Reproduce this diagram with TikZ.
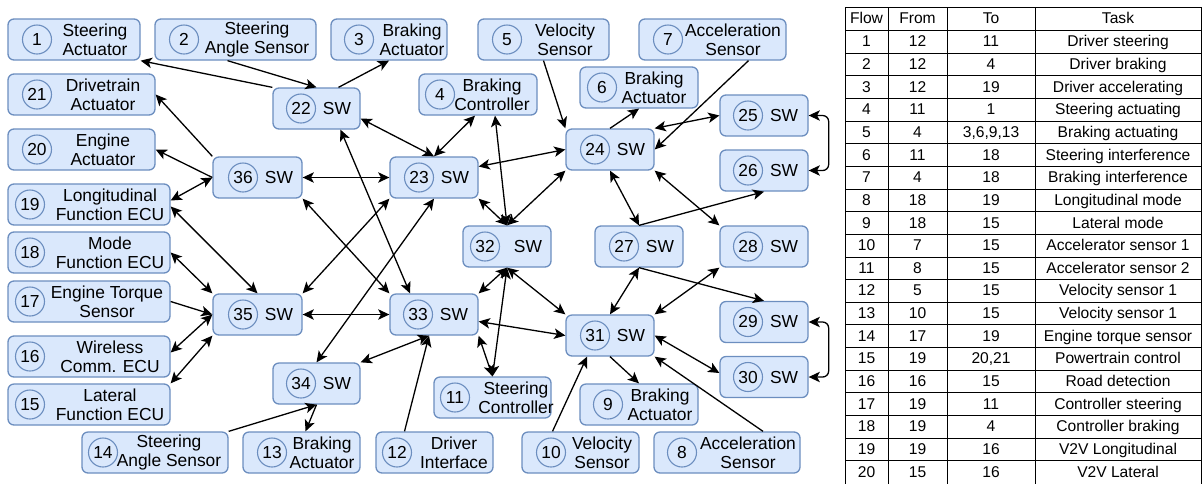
\documentclass[tikz,border=0pt]{standalone}
\usepackage{fontspec}
\setmainfont{Liberation Sans}
\usetikzlibrary{arrows.meta}
\definecolor{boxfill}{HTML}{DAE8FC}
\definecolor{boxline}{HTML}{6C8EBF}

% box with its number circle and its label
\newcommand{\ecu}[7]{%
  \node[ecu, minimum width={(#3-#2)*0.5pt}] (n#1) at ({(#2+#3)/2},#4) {};
  \node[num] (c#1) at (#5,#4) {#1};
  \node[lbl] (t#1) at (#6,#4) {#7};
}

\begin{document}
\begin{tikzpicture}[x=0.5pt, y=-0.5pt,
    >={Stealth[length=5.6pt, width=5.2pt, inset=1.4pt]},
    ecu/.style={draw=boxline, fill=boxfill, line width=0.65pt, rounded corners=3pt, minimum height=20.5pt, inner sep=0pt},
    num/.style={circle, draw=boxline, line width=0.55pt, minimum size=14.5pt, inner sep=0pt, font=\fontsize{8.7}{9.5}\selectfont},
    lbl/.style={align=center, inner sep=0pt, font=\fontsize{8.7}{9.5}\selectfont},
    link/.style={line width=0.65pt},
    cell/.style={inner sep=0pt, text height=5.6pt, text depth=1.6pt, font=\fontsize{7.8}{9}\selectfont},
    tabrule/.style={line width=0.5pt}]
  \useasboundingbox (0,0) rectangle (1202,483);

  \ecu{1}{8}{140}{39.5}{37}{95}{Steering\\Actuator}
  \ecu{2}{155}{316}{39.5}{184}{257}{Steering\\Angle Sensor}
  \ecu{3}{331}{447}{39.5}{359}{412}{Braking\\Actuator}
  \ecu{5}{478}{609}{39.5}{507}{565}{Velocity\\Sensor}
  \ecu{7}{639}{786}{39.5}{668}{733}{Acceleration\\Sensor}
  \ecu{21}{8}{155}{94.5}{37}{103}{Drivetrain\\Actuator}
  \ecu{4}{419}{537}{94.5}{440}{492}{Braking\\Controller}
  \ecu{6}{580}{698}{87.5}{602}{654}{Braking\\Actuator}
  \ecu{22}{273}{360}{108.5}{301}{337}{SW}
  \ecu{25}{720}{808}{115.5}{748}{784}{SW}
  \ecu{20}{8}{155}{149.5}{37}{103}{Engine\\Actuator}
  \ecu{24}{566}{654}{149.5}{595}{631}{SW}
  \ecu{26}{720}{808}{170.5}{748}{784}{SW}
  \ecu{36}{213}{302}{177.5}{243}{279}{SW}
  \ecu{23}{390}{478}{177.5}{419}{455}{SW}
  \ecu{19}{8}{170}{204.5}{30}{110}{Longitudinal\\Function ECU}
  \ecu{32}{463}{551}{246.5}{485}{528}{SW}
  \ecu{27}{595}{683}{246.5}{624}{660}{SW}
  \ecu{28}{720}{808}{246.5}{748}{784}{SW}
  \ecu{18}{8}{170}{252.5}{30}{110}{Mode\\Function ECU}
  \ecu{17}{8}{170}{301.5}{30}{107}{Engine Torque\\Sensor}
  \ecu{35}{213}{302}{314.5}{243}{279}{SW}
  \ecu{33}{390}{478}{314.5}{418}{454}{SW}
  \ecu{29}{720}{808}{322}{748}{784}{SW}
  \ecu{31}{566}{654}{335.5}{595}{631}{SW}
  \ecu{16}{8}{170}{356.5}{30}{110}{Wireless\\Comm. ECU}
  \ecu{30}{720}{808}{377}{748}{784}{SW}
  \ecu{34}{273}{360}{383.5}{301}{337}{SW}
  \ecu{11}{434}{551}{397.5}{455}{516}{Steering\\Controller}
  \ecu{15}{8}{170}{404.5}{30}{110}{Lateral\\Function ECU}
  \ecu{9}{580}{698}{404.5}{608}{660}{Braking\\Actuator}
  \ecu{14}{82}{228}{452.5}{103}{169}{Steering\\Angle Sensor}
  \ecu{13}{243}{360}{452.5}{272}{322}{Braking\\Actuator}
  \ecu{12}{376}{493}{452.5}{397}{454}{Driver\\Interface}
  \ecu{10}{522}{639}{452.5}{551}{602}{Velocity\\Sensor}
  \ecu{8}{654}{800}{452.5}{682}{748}{Acceleration\\Sensor}

  \draw[link]
  (n22.north west) edge[->] (n1.south east)
  ([xshift=-4pt]n2.south) edge[->] (n22.north)
  ([xshift=11pt]n22.north) edge[->] (n3.south)
  (n36.north west) edge[->] (n21.east)
  (n36.west) edge[->] (n20.east)
  (n36.west) edge[<->] ([yshift=2pt]n19.east)
  (n36.east) edge[<->] (n23.west)
  (n36.south east) edge[<->] (n33.north west)
  (n35.north east) edge[<->] (n23.south west)
  ([yshift=-1pt]n19.east) edge[<->] (n35.north)
  (n18.east) edge[<->] (n35.north west)
  (n17.east) edge[->] (n35.west)
  ([yshift=2pt]n16.east) edge[<->] (n35.west)
  (n15.north east) edge[<->] (n35.south west)
  (n35.east) edge[<->] (n33.west)
  ([yshift=-5pt]n22.east) edge[<->] (n23.north)
  ([xshift=12pt]n22.south) edge[<->] ([xshift=-12pt]n33.north)
  (n23.north) edge[<->] ([xshift=-1.5pt]n4.south)
  ([xshift=8.5pt]n4.south) edge[<->] (n32.north)
  ([yshift=5.5pt]n23.east) edge[<->] (n24.west)
  (n23.south east) edge[<->] (n32.north)
  (n32.north) edge[<->] (n24.south west)
  (n5.south) edge[->] (n24.north west)
  (n24.north) edge[->] (n6.south)
  ([xshift=18pt]n7.south) edge[->] (n24.east)
  (n24.north east) edge[<->] (n25.west)
  (n24.south) edge[<->] (n27.north)
  (n24.south east) edge[<->] (n28.north west)
  (n27.north) edge[->] (n26.south)
  (n32.south) edge[<->] (n33.north east)
  (n32.south) edge[<->] (n31.north west)
  (n32.south) edge[<->] (n11.north)
  ([yshift=-3.5pt]n33.east) edge[<->] (n31.west)
  (n33.south east) edge[<->] (n11.north)
  ([xshift=-2.5pt]n33.south) edge[<->] (n34.north east)
  ([xshift=-15pt]n12.north) edge[->] ([xshift=-2.5pt]n33.south)
  (n23.south) edge[<->] (n34.north)
  (n14.north east) edge[->] (n34.south)
  (n34.south) edge[->] ([xshift=2pt]n13.north)
  ([xshift=-14pt]n10.north) edge[->] ([xshift=-11.5pt]n31.south)
  (n31.south) edge[->] (n9.north)
  ([xshift=18pt]n8.north) edge[->] (n31.south east)
  (n31.east) edge[<->] ([yshift=2pt]n30.west)
  (n31.north) edge[<->] (n27.south)
  (n31.north east) edge[<->] (n28.south west)
  (n27.south) edge[->] (n29.north);
  \draw[link, <->, rounded corners=3pt] (n25.east) -- ++(20,0) |- (n26.east);
  \draw[link, <->, rounded corners=3pt] (n29.east) -- ++(20,0) |- (n30.east);

  % flow table
  \draw[tabrule] (845,483.5) |- (1201,7) -- (1201,483.5);
  \foreach \x in {888,947,1035}
    \draw[tabrule] (\x,7) -- (\x,483.5);
  \foreach \k in {0,...,19}
    \draw[tabrule] (845,{30.5+22.65*\k}) -- (1201,{30.5+22.65*\k});
  \node[cell] (hflow) at (866.5,19) {Flow};
  \node[cell] (hfrom) at (917.5,19) {From};
  \node[cell] (hto) at (991,19) {To};
  \node[cell] (htask) at (1118,19) {Task};
  \foreach \fl/\src/\dst/\task in {1/12/11/Driver steering, 2/12/4/Driver braking,
      3/12/19/Driver accelerating, 4/11/1/Steering actuating,
      5/4/{3,6,9,13}/Braking actuating, 6/11/18/Steering interference,
      7/4/18/Braking interference, 8/18/19/Longitudinal mode,
      9/18/15/Lateral mode, 10/7/15/Accelerator sensor 1,
      11/8/15/Accelerator sensor 2, 12/5/15/Velocity sensor 1,
      13/10/15/Velocity sensor 1, 14/17/19/Engine torque sensor,
      15/19/{20,21}/Powertrain control, 16/16/15/Road detection,
      17/19/11/Controller steering, 18/19/4/Controller braking,
      19/19/16/V2V Longitudinal, 20/15/16/V2V Lateral} {
    \node[cell] (f\fl) at (866.5,{31.5+22.65*(\fl-0.5)}) {\fl};
    \node[cell] (s\fl) at (917.5,{31.5+22.65*(\fl-0.5)}) {\src};
    \node[cell] (d\fl) at (991,{31.5+22.65*(\fl-0.5)}) {\dst};
    \node[cell] (k\fl) at (1118,{31.5+22.65*(\fl-0.5)}) {\task};
  }
\end{tikzpicture}
\end{document}
